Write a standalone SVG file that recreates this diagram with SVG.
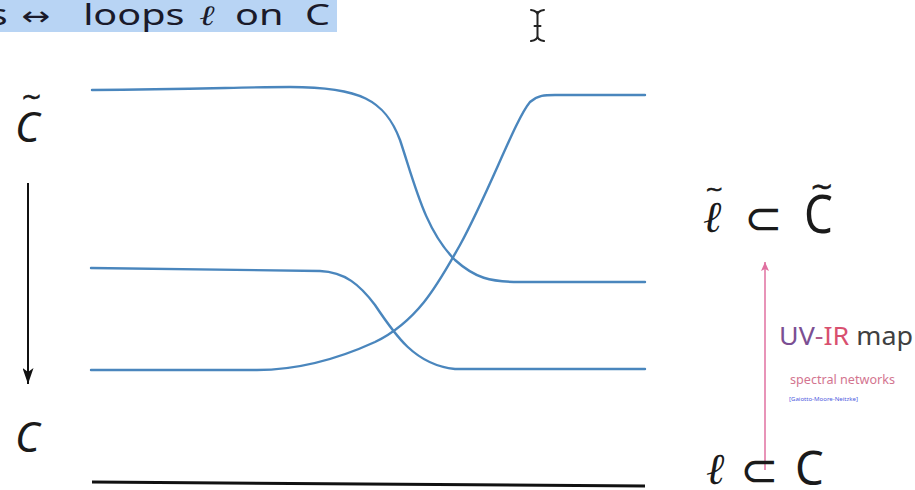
<svg xmlns="http://www.w3.org/2000/svg" width="915" height="490" viewBox="0 0 915 490">
<defs>
<style>
.strand{fill:none;stroke:#4a86bd;stroke-width:2.4;stroke-linecap:round}
.math{font-family:"Noto Sans","DejaVu Sans",sans-serif;fill:#1a1a1a}
.sym{font-family:"DejaVu Sans",sans-serif;fill:#1a1a1a}
.tilde{font-family:"DejaVu Sans",sans-serif;fill:#1a1a1a;stroke:#1a1a1a;stroke-width:0.6}
.ell{font-family:"DejaVu Serif",serif;font-style:italic;fill:#1a1a1a}
</style>
<marker id="blackHead" markerWidth="16" markerHeight="11" refX="16" refY="5.5" orient="auto" markerUnits="userSpaceOnUse" viewBox="0 0 16 11">
<path d="M0,0 L16,5.5 L0,11 L4,5.5 Z" fill="#111"/>
</marker>
<marker id="pinkHead" markerWidth="9" markerHeight="8" refX="9" refY="4" orient="auto" markerUnits="userSpaceOnUse" viewBox="0 0 9 8">
<path d="M0,0 L9,4 L0,8 L2,4 Z" fill="#e070a0"/>
</marker>
</defs>
<rect width="915" height="490" fill="#ffffff"/>

<g id="banner">
<rect x="0" y="0" width="337" height="32" fill="#b8d4f4"/>
<g transform="scale(1.32,1)">
<text y="25" font-family="Noto Sans, DejaVu Sans, sans-serif" font-size="30" fill="#1a1a2a"><tspan x="-8.5">s</tspan><tspan x="16.5" font-family="DejaVu Sans, sans-serif" font-size="26">↔</tspan><tspan x="63">loops</tspan><tspan x="151" font-family="DejaVu Serif, serif" font-style="italic" font-size="28">ℓ</tspan><tspan x="178">on</tspan><tspan x="231">C</tspan></text>
</g>
</g>

<g id="cursor" stroke="#222" stroke-width="2" fill="none" stroke-linecap="round">
<path d="M537.5,12 L537.5,38 M531,10 Q537.5,11 537.5,15 Q537.5,11 544,10 M531,41 Q537.5,40 537.5,36 Q537.5,40 544,41 M534.5,26 L540.5,26"/>
</g>

<g id="Ctilde-label">
<text x="15" y="142" class="math" font-size="42" font-style="italic">C</text>
<text x="21" y="105" class="tilde" font-size="25">~</text>
</g>

<g id="C-label">
<text x="15" y="452" class="math" font-size="42" font-style="italic">C</text>
</g>

<g id="strands">
<path class="strand" d="M92,90 C200,89 250,87 290,87 C360,87 385,100 400,140 C415,185 425,230 455,260 C475,278 490,282 520,282 L645,282"/>
<path class="strand" d="M91,370 L257,370 C300,370 340,358 375,342 C420,320 440,280 460,245 C490,190 515,120 530,102 C538,95 545,95 555,95 L645,95"/>
<path class="strand" d="M91,268 L320,271 C345,272 360,285 375,305 C395,335 415,365 455,369 L645,369"/>
</g>

<g id="base-line">
<line x1="92" y1="482" x2="645" y2="486" stroke="#111" stroke-width="3"/>
</g>

<g id="connectors">
<line x1="28" y1="183" x2="28" y2="384" stroke="#111" stroke-width="2" marker-end="url(#blackHead)"/>
<line x1="765" y1="470" x2="765" y2="262" stroke="#e070a0" stroke-width="1.5" marker-end="url(#pinkHead)"/>
</g>

<g id="upper-right">
<text x="703" y="232" class="ell" font-size="44">ℓ</text>
<text x="705" y="196" class="tilde" font-size="22">~</text>
<text x="744" y="234" class="sym" font-size="46">⊂</text>
<text transform="translate(804,233) scale(0.88,1)" class="math" font-size="52">C</text>
<text x="810" y="196" class="tilde" font-size="28">~</text>
</g>

<g id="lower-right">
<text x="706" y="484" class="ell" font-size="44">ℓ</text>
<text x="740" y="486" class="sym" font-size="46">⊂</text>
<text transform="translate(795,485) scale(0.95,1)" class="math" font-size="48">C</text>
</g>

<g id="uvir-label" font-family="Noto Sans, DejaVu Sans, sans-serif">
<text x="779" y="345" font-size="25" textLength="134" lengthAdjust="spacingAndGlyphs"><tspan fill="#7b4f93">UV</tspan><tspan fill="#b05a8a">-</tspan><tspan fill="#d9506f">IR</tspan><tspan fill="#404040"> map</tspan></text>
<text x="790" y="384" font-size="12" fill="#d37590" textLength="105" lengthAdjust="spacingAndGlyphs">spectral networks</text>
<text x="789" y="401" font-size="5.5" fill="#4f5be0" textLength="69" lengthAdjust="spacingAndGlyphs">[Gaiotto-Moore-Neitzke]</text>
</g>
</svg>
